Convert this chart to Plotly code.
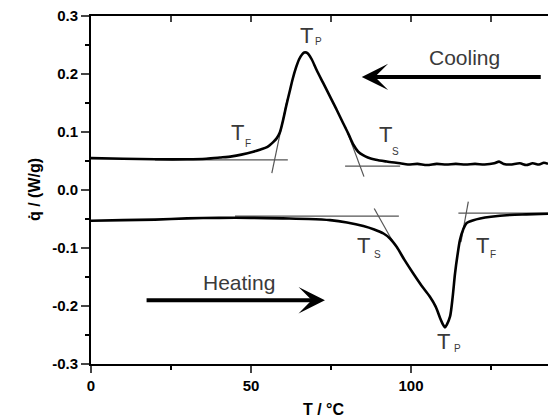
import plotly.graph_objects as go

# ---------------- data ----------------
cool_T = [0, 10, 20, 30, 36, 40.3, 44, 47, 50.7, 53, 55, 56, 57, 58, 59, 60, 61, 62, 63, 64,
          65, 66, 66.6, 67.3, 68, 69, 70.5, 72.5, 74.7, 76.8, 78.8, 80.5, 82, 83.5, 85, 86.5,
          89, 92.4, 96.6, 99, 102, 105, 108, 111, 114, 117, 120, 123, 126, 127.5, 129, 131,
          134, 136, 138, 140, 141.5, 142.8]
cool_q = [0.055, 0.054, 0.053, 0.053, 0.054, 0.056, 0.058, 0.061, 0.066, 0.070, 0.074, 0.078,
          0.083, 0.089, 0.099, 0.120, 0.145, 0.168, 0.191, 0.210, 0.225, 0.234, 0.237, 0.237,
          0.234, 0.225, 0.207, 0.185, 0.161, 0.138, 0.115, 0.096, 0.078, 0.066, 0.060, 0.056,
          0.052, 0.049, 0.046, 0.044, 0.045, 0.043, 0.045, 0.044, 0.045, 0.044, 0.045, 0.044,
          0.046, 0.049, 0.045, 0.044, 0.046, 0.043, 0.046, 0.044, 0.047, 0.045]

heat_T = [0, 10, 20, 30, 40, 50, 60, 68, 74.7, 80, 85.1, 88.5, 91.4, 93.5, 95.5, 98, 100.7,
          103.3, 105.9, 107.7, 109.1, 110.1, 110.6, 111.2, 112.2, 113, 113.75, 114.5, 115.3,
          116.3, 117.4, 119.5, 121.6, 125, 130.9, 136, 142.8]
heat_q = [-0.053, -0.052, -0.051, -0.049, -0.048, -0.048, -0.049, -0.050, -0.052, -0.056,
          -0.062, -0.068, -0.075, -0.084, -0.098, -0.121, -0.144, -0.165, -0.184, -0.201,
          -0.221, -0.233, -0.237, -0.232, -0.218, -0.185, -0.144, -0.113, -0.086, -0.068,
          -0.057, -0.052, -0.049, -0.046, -0.043, -0.042, -0.041]

# construction (tangent / baseline) lines
aux_lines = {
    "cool_base_left":  ([20, 61.5], [0.052, 0.052]),
    "cool_tan_left":   ([56.5, 61.3], [0.029, 0.156]),
    "cool_tan_right":  ([85.3, 79.5], [0.023, 0.109]),
    "cool_base_right": ([79.4, 96.6], [0.041, 0.041]),
    "heat_base_left":  ([45, 96.2], [-0.045, -0.045]),
    "heat_tan_left":   ([88.5, 94.5], [-0.032, -0.091]),
    "heat_tan_right":  ([117.9, 115.6], [-0.020, -0.090]),
    "heat_base_right": ([114.8, 142.8], [-0.040, -0.040]),
}

# labels: (main text, subscript, T pos, q pos, sub T pos, sub q pos)
labels = [
    ("T", "P", 67.2, 0.267, 71.1, 0.256),
    ("T", "F", 45.8, 0.099, 49.2, 0.080),
    ("T", "S", 92.1, 0.095, 95.2, 0.067),
    ("T", "S", 85.3, -0.096, 89.5, -0.111),
    ("T", "F", 122.3, -0.096, 125.5, -0.111),
    ("T", "P", 110.1, -0.262, 114.5, -0.274),
]

x_ticks = [0, 50, 100]
y_ticks = [-0.3, -0.2, -0.1, 0.0, 0.1, 0.2, 0.3]
y_ticktext = ["-0.3", "-0.2", "-0.1", "0.0", "0.1", "0.2", "0.3"]
x_title = "T / °C"
y_title = "q\u0307 / (W/g)"

FONT = "Liberation Sans, Arial, sans-serif"
TXT = "#3a3a3a"

fig = go.Figure()

for name, (xs, ys) in aux_lines.items():
    fig.add_trace(go.Scatter(x=xs, y=ys, mode="lines",
                             line=dict(color="#555555", width=1.2),
                             hoverinfo="skip", showlegend=False))

fig.add_trace(go.Scatter(x=cool_T, y=cool_q, mode="lines",
                         line=dict(color="black", width=2.6, shape="spline", smoothing=0.8),
                         showlegend=False))
fig.add_trace(go.Scatter(x=heat_T, y=heat_q, mode="lines",
                         line=dict(color="black", width=2.6, shape="spline", smoothing=0.8),
                         showlegend=False))

# top mirrored axis with inward ticks
fig.add_trace(go.Scatter(x=[0], y=[0], xaxis="x2", mode="markers",
                         marker=dict(opacity=0), hoverinfo="skip", showlegend=False))

annotations = []
for t, sub, tx, ty, sx, sy in labels:
    annotations.append(dict(x=tx, y=ty, text=t, showarrow=False, xref="x", yref="y",
                            font=dict(family=FONT, size=22, color=TXT)))
    annotations.append(dict(x=sx, y=sy, text=sub, showarrow=False, xref="x", yref="y",
                            font=dict(family=FONT, size=10, color=TXT)))

annotations.append(dict(x=116.6, y=0.228, text="Cooling", showarrow=False,
                        font=dict(family=FONT, size=21, color=TXT)))
annotations.append(dict(x=46.3, y=-0.159, text="Heating", showarrow=False,
                        font=dict(family=FONT, size=21, color=TXT)))

# arrows
annotations.append(dict(x=84.6, y=0.195, ax=141.0, ay=0.195, axref="x", ayref="y",
                        xref="x", yref="y", text="", showarrow=True, arrowhead=3,
                        arrowwidth=4, arrowsize=1.1, arrowcolor="black", standoff=0))
annotations.append(dict(x=73.1, y=-0.190, ax=16.9, ay=-0.190, axref="x", ayref="y",
                        xref="x", yref="y", text="", showarrow=True, arrowhead=3,
                        arrowwidth=4, arrowsize=1.1, arrowcolor="black", standoff=0))

# axis titles
annotations.append(dict(x=0.5, y=0, xref="paper", yref="paper", xanchor="center",
                        yanchor="middle", xshift=4, yshift=-45, showarrow=False,
                        text="<b>" + x_title + "</b>",
                        font=dict(family=FONT, size=16, color="black")))
annotations.append(dict(x=0, y=0.5, xref="paper", yref="paper", xanchor="center",
                        yanchor="middle", xshift=-57, showarrow=False, textangle=-90,
                        text="<b>" + y_title + "</b>",
                        font=dict(family=FONT, size=16, color="black")))

fig.update_layout(
    width=548, height=419,
    margin=dict(l=91, r=0, t=16, b=55),
    plot_bgcolor="white", paper_bgcolor="white",
    font=dict(family=FONT, color="black"),
    annotations=annotations,
    xaxis=dict(range=[0, 142.8], tickvals=x_ticks, ticks="outside", ticklen=7, tickwidth=2,
               showline=True, linewidth=2, linecolor="black", mirror=False,
               showgrid=False, zeroline=False,
               minor=dict(dtick=25, tick0=0, ticks="outside", ticklen=4, tickwidth=2,
                          tickcolor="black", showgrid=False),
               tickfont=dict(family=FONT, size=15, color="black", weight="bold")),
    xaxis2=dict(range=[0, 142.8], overlaying="x", side="top", showline=True, linewidth=2,
                linecolor="black", ticks="inside", ticklen=6, tickwidth=2, dtick=25, tick0=0,
                showticklabels=False, showgrid=False, zeroline=False),
    yaxis=dict(range=[-0.3, 0.3], tickvals=y_ticks, ticktext=y_ticktext, ticks="outside",
               ticklen=8, tickwidth=2, showline=True, linewidth=2, linecolor="black",
               mirror=False, showgrid=False, zeroline=False,
               minor=dict(dtick=0.05, tick0=0, ticks="outside", ticklen=4, tickwidth=2,
                          tickcolor="black", showgrid=False),
               tickfont=dict(family=FONT, size=15, color="black", weight="bold")),
)

fig.write_html("out.html")
